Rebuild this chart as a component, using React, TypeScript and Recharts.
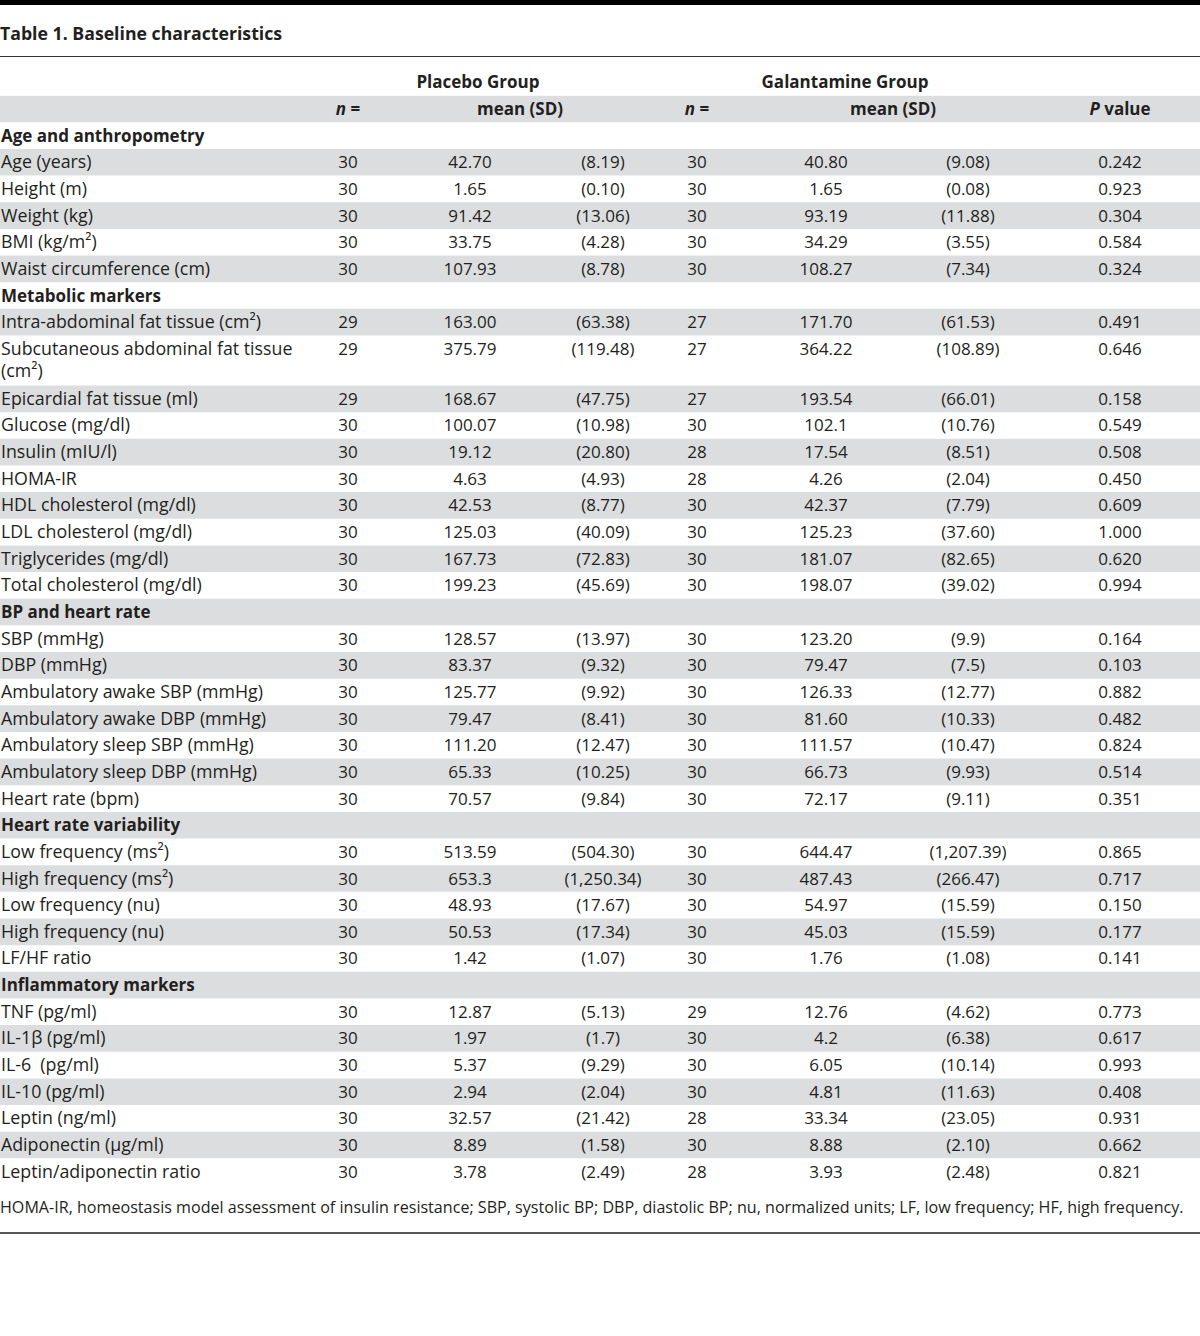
import React from "react";
import { ComposedChart, XAxis, YAxis, Scatter, ReferenceArea } from "recharts";

// ---------- data ----------
const sectionNames = [
  "Age and anthropometry",
  "Metabolic markers",
  "BP and heart rate",
  "Heart rate variability",
  "Inflammatory markers",
];

const sectionLabels: string[][] = [
  ["Age (years)", "Height (m)", "Weight (kg)", "BMI (kg/m²)", "Waist circumference (cm)"],
  [
    "Intra-abdominal fat tissue (cm²)",
    "Subcutaneous abdominal fat tissue\n(cm²)",
    "Epicardial fat tissue (ml)",
    "Glucose (mg/dl)",
    "Insulin (mIU/l)",
    "HOMA-IR",
    "HDL cholesterol (mg/dl)",
    "LDL cholesterol (mg/dl)",
    "Triglycerides (mg/dl)",
    "Total cholesterol (mg/dl)",
  ],
  [
    "SBP (mmHg)",
    "DBP (mmHg)",
    "Ambulatory awake SBP (mmHg)",
    "Ambulatory awake DBP (mmHg)",
    "Ambulatory sleep SBP (mmHg)",
    "Ambulatory sleep DBP (mmHg)",
    "Heart rate (bpm)",
  ],
  ["Low frequency (ms²)", "High frequency (ms²)", "Low frequency (nu)", "High frequency (nu)", "LF/HF ratio"],
  [
    "TNF (pg/ml)",
    "IL-1β (pg/ml)",
    "IL-6  (pg/ml)",
    "IL-10 (pg/ml)",
    "Leptin (ng/ml)",
    "Adiponectin (μg/ml)",
    "Leptin/adiponectin ratio",
  ],
];

const placeboN = [
  30, 30, 30, 30, 30,
  29, 29, 29, 30, 30, 30, 30, 30, 30, 30,
  30, 30, 30, 30, 30, 30, 30,
  30, 30, 30, 30, 30,
  30, 30, 30, 30, 30, 30, 30,
];
const placeboMean = [
  "42.70", "1.65", "91.42", "33.75", "107.93",
  "163.00", "375.79", "168.67", "100.07", "19.12", "4.63", "42.53", "125.03", "167.73", "199.23",
  "128.57", "83.37", "125.77", "79.47", "111.20", "65.33", "70.57",
  "513.59", "653.3", "48.93", "50.53", "1.42",
  "12.87", "1.97", "5.37", "2.94", "32.57", "8.89", "3.78",
];
const placeboSD = [
  "8.19", "0.10", "13.06", "4.28", "8.78",
  "63.38", "119.48", "47.75", "10.98", "20.80", "4.93", "8.77", "40.09", "72.83", "45.69",
  "13.97", "9.32", "9.92", "8.41", "12.47", "10.25", "9.84",
  "504.30", "1,250.34", "17.67", "17.34", "1.07",
  "5.13", "1.7", "9.29", "2.04", "21.42", "1.58", "2.49",
];
const galN = [
  30, 30, 30, 30, 30,
  27, 27, 27, 30, 28, 28, 30, 30, 30, 30,
  30, 30, 30, 30, 30, 30, 30,
  30, 30, 30, 30, 30,
  29, 30, 30, 30, 28, 30, 28,
];
const galMean = [
  "40.80", "1.65", "93.19", "34.29", "108.27",
  "171.70", "364.22", "193.54", "102.1", "17.54", "4.26", "42.37", "125.23", "181.07", "198.07",
  "123.20", "79.47", "126.33", "81.60", "111.57", "66.73", "72.17",
  "644.47", "487.43", "54.97", "45.03", "1.76",
  "12.76", "4.2", "6.05", "4.81", "33.34", "8.88", "3.93",
];
const galSD = [
  "9.08", "0.08", "11.88", "3.55", "7.34",
  "61.53", "108.89", "66.01", "10.76", "8.51", "2.04", "7.79", "37.60", "82.65", "39.02",
  "9.9", "7.5", "12.77", "10.33", "10.47", "9.93", "9.11",
  "1,207.39", "266.47", "15.59", "15.59", "1.08",
  "4.62", "6.38", "10.14", "11.63", "23.05", "2.10", "2.48",
];
const pValues = [
  "0.242", "0.923", "0.304", "0.584", "0.324",
  "0.491", "0.646", "0.158", "0.549", "0.508", "0.450", "0.609", "1.000", "0.620", "0.994",
  "0.164", "0.103", "0.882", "0.482", "0.824", "0.514", "0.351",
  "0.865", "0.717", "0.150", "0.177", "0.141",
  "0.773", "0.617", "0.993", "0.408", "0.931", "0.662", "0.821",
];

const groupHeaders = ["Placebo Group", "Galantamine Group"];
const subHeaders = ["n =", "mean (SD)", "n =", "mean (SD)", "P value"];

const titleText = "Table 1. Baseline characteristics";
const footnoteText =
  "HOMA-IR, homeostasis model assessment of insulin resistance; SBP, systolic BP; DBP, diastolic BP; nu, normalized units; LF, low frequency; HF, high frequency.";

// ---------- layout ----------
const FONT = "'Open Sans', sans-serif";
const TEXT = "#231f20";
const STRIPE = "#dcdddf";
const ROW_PX = 26.65;
const TWO_LINE_UNITS = 50 / ROW_PX;
const LABEL_X = 1;
const VALUE_X = [348, 470, 603, 697, 826, 968, 1120];
const GROUP_X = [478, 845];
const SUB_X = [348, 520, 697, 893, 1120];
const CHART_TOP = 68.7;

type Row = { kind: string; label?: string; idx?: number; y0: number; units: number };

const rows: Row[] = [];
let cursor = 0;
const pushRow = (r: Omit<Row, "y0">) => {
  rows.push({ ...r, y0: cursor });
  cursor += r.units;
};
pushRow({ kind: "group", units: 1 });
pushRow({ kind: "sub", units: 1 });
let dataIdx = 0;
sectionNames.forEach((name, s) => {
  pushRow({ kind: "section", label: name, units: 1 });
  sectionLabels[s].forEach((lab) => {
    pushRow({ kind: "data", label: lab, idx: dataIdx, units: lab.includes("\n") ? TWO_LINE_UNITS : 1 });
    dataIdx++;
  });
});
const TOTAL_UNITS = cursor;
const CHART_H = TOTAL_UNITS * ROW_PX;

const valueColumns = [
  placeboN.map(String),
  placeboMean,
  placeboSD.map((v) => `(${v})`),
  galN.map(String),
  galMean,
  galSD.map((v) => `(${v})`),
  pValues,
];

const labelPoints = rows
  .filter((r) => r.kind === "section" || r.kind === "data")
  .map((r) => ({
    x: LABEL_X,
    y: r.y0 + 0.5,
    text: r.label as string,
    bold: r.kind === "section",
    size: r.kind === "section" ? 17 : 17.8,
  }));

const dataRows = rows.filter((r) => r.kind === "data");
const valuePoints = valueColumns.map((col, c) =>
  dataRows.map((r) => ({ x: VALUE_X[c], y: r.y0 + 0.5, text: col[r.idx as number], bold: false, size: 17 }))
);

const groupRow = rows[0];
const subRow = rows[1];
const groupPoints = groupHeaders.map((t, i) => ({ x: GROUP_X[i], y: groupRow.y0 + 0.5, text: t, bold: true, size: 17 }));
const subPoints = subHeaders.map((t, i) => ({ x: SUB_X[i], y: subRow.y0 + 0.5, text: t, bold: true, size: 17 }));

const stripeRows = rows.filter((_, i) => i % 2 === 1);

// ---------- rendering ----------
const renderItalicHead = (t: string) => {
  if (t === "n =") return [<tspan key="a" fontStyle="italic">n</tspan>, " ="];
  if (t === "P value") return [<tspan key="a" fontStyle="italic">P</tspan>, " value"];
  return t;
};

const makeShape = (anchor: "start" | "middle") => (props: any) => {
  const { cx, cy, payload } = props;
  if (cx == null || cy == null) return <g />;
  const lines = String(payload.text).split("\n");
  return (
    <text
      x={cx}
      y={cy + 6}
      textAnchor={anchor}
      fontFamily={FONT}
      fontSize={payload.size || 17}
      fontWeight={payload.bold ? 700 : 400}
      fill={TEXT}
      style={{ whiteSpace: "pre" }}
    >
      {lines.map((l, i) => (
        <tspan key={i} x={cx} dy={i === 0 ? 0 : 22}>
          {renderItalicHead(l)}
        </tspan>
      ))}
    </text>
  );
};

const startShape = makeShape("start");
const middleShape = makeShape("middle");

export default function App() {
  return (
    <div
      style={{
        position: "absolute",
        left: 0,
        top: 0,
        width: 1200,
        height: 1336,
        background: "#fff",
        fontFamily: FONT,
        color: TEXT,
        overflow: "hidden",
      }}
    >
      <div style={{ position: "absolute", left: 0, top: 0, width: 1200, height: 5, background: "#000" }} />
      <div
        style={{
          position: "absolute",
          left: 0,
          top: 20,
          fontSize: 17.7,
          fontWeight: 700,
          lineHeight: "26px",
          whiteSpace: "nowrap",
        }}
      >
        {titleText}
      </div>
      <div style={{ position: "absolute", left: 0, top: 56, width: 1200, height: 1, background: "#333" }} />
      <div style={{ position: "absolute", left: 0, top: CHART_TOP }}>
        <ComposedChart width={1200} height={CHART_H} margin={{ top: 0, right: 0, bottom: 0, left: 0 }}>
          <XAxis type="number" dataKey="x" domain={[0, 1200]} hide />
          <YAxis type="number" dataKey="y" domain={[0, TOTAL_UNITS]} reversed hide />
          {stripeRows.map((r, i) => (
            <ReferenceArea
              key={`s${i}`}
              y1={r.y0}
              y2={r.y0 + r.units}
              fill={STRIPE}
              fillOpacity={1}
              stroke="none"
            />
          ))}
          <Scatter data={labelPoints} shape={startShape} isAnimationActive={false} />
          {valuePoints.map((pts, c) => (
            <Scatter key={`c${c}`} data={pts} shape={middleShape} isAnimationActive={false} />
          ))}
          <Scatter data={groupPoints} shape={middleShape} isAnimationActive={false} />
          <Scatter data={subPoints} shape={middleShape} isAnimationActive={false} />
        </ComposedChart>
      </div>
      <div
        style={{
          position: "absolute",
          left: 0,
          top: 1196,
          fontSize: 16.1,
          lineHeight: "22px",
          whiteSpace: "nowrap",
        }}
      >
        {footnoteText}
      </div>
      <div style={{ position: "absolute", left: 0, top: 1232, width: 1200, height: 2, background: "#555" }} />
    </div>
  );
}
